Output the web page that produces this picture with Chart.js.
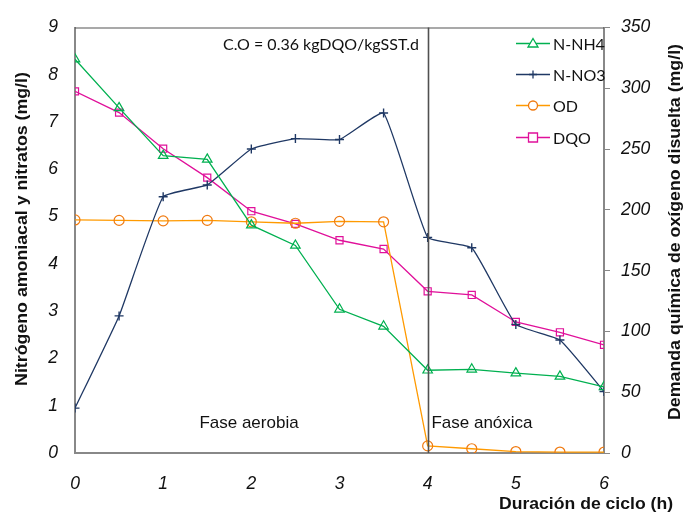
<!DOCTYPE html>
<html>
<head>
<meta charset="utf-8">
<script src="https://cdn.jsdelivr.net/npm/chart.js@4.4.1/dist/chart.umd.min.js"></script>
<style>
html,body{margin:0;padding:0;background:#fff;}
#wrap{width:699px;height:514px;position:relative;}
</style>
</head>
<body>
<div id="wrap"><canvas id="c" width="699" height="514"></canvas></div>
<script>
// Data
const hours = [0, 0.5, 1, 1.5, 2, 2.5, 3, 3.5, 4, 4.5, 5, 5.5, 6];
const nNH4 = [8.33, 7.30, 6.29, 6.21, 4.82, 4.39, 3.04, 2.68, 1.75, 1.77, 1.69, 1.62, 1.40];
const nNO3 = [0.95, 2.90, 5.42, 5.67, 6.43, 6.65, 6.63, 7.19, 4.56, 4.34, 2.72, 2.39, 1.30];
const od   = [4.93, 4.92, 4.91, 4.92, 4.89, 4.86, 4.90, 4.89, 0.15, 0.09, 0.03, 0.02, 0.02];
const dqo  = [297.5, 280, 250.3, 226.5, 198.9, 188.5, 175, 167.8, 133, 130, 107.8, 99.3, 89];
const xTicks = [0, 1, 2, 3, 4, 5, 6];
const leftTicks = [0, 1, 2, 3, 4, 5, 6, 7, 8, 9];
const rightTicks = [0, 50, 100, 150, 200, 250, 300, 350];
const seriesNames = ['N-NH4', 'N-NO3', 'OD', 'DQO'];

const C_NH4 = '#00B050', C_NO3 = '#1F3864', C_OD = '#FF9A00', C_ODM = '#F07A10', C_DQO = '#E0109A';

const pts = arr => hours.map((h, i) => ({x: h, y: arr[i]}));

const tickFont = {family: '"Liberation Sans", Arial, sans-serif', size: 17.5, style: 'italic'};

function stretchedText(ctx, text, x, y, rot, sx) {
  ctx.save();
  ctx.translate(x, y);
  ctx.rotate(rot);
  ctx.scale(sx, 1);
  ctx.fillText(text, 0, 0);
  ctx.restore();
}

const overlay = {
  id: 'overlay',
  afterDraw(chart) {
    const ctx = chart.ctx;
    const a = chart.chartArea;
    const xs = chart.scales.x;
    ctx.save();
    // top frame line
    ctx.strokeStyle = '#555';
    ctx.lineWidth = 1.2;
    ctx.beginPath(); ctx.moveTo(a.left, a.top + 0.5); ctx.lineTo(a.right, a.top + 0.5); ctx.stroke();
    // phase separator at 4 h
    const x4 = Math.round(xs.getPixelForValue(4)) + 0.5;
    ctx.strokeStyle = '#505050';
    ctx.lineWidth = 1.6;
    ctx.beginPath(); ctx.moveTo(x4, a.top); ctx.lineTo(x4, a.bottom); ctx.stroke();

    // annotations
    ctx.fillStyle = '#111';
    ctx.textAlign = 'center';
    ctx.textBaseline = 'middle';
    ctx.font = '16px Lato, "Open Sans", sans-serif';
    ctx.fillText('C.O = 0.36 kgDQO/kgSST.d', 321, 45);
    ctx.font = '17px "Liberation Sans", Arial, sans-serif';
    ctx.fillText('Fase aerobia', 249, 423);
    ctx.fillText('Fase anóxica', 482, 423);

    // axis titles
    ctx.font = 'bold 16px "Liberation Sans", Arial, sans-serif';
    stretchedText(ctx, 'Duración de ciclo (h)', 586, 505, 0, 1.1);
    stretchedText(ctx, 'Nitrógeno amoniacal y nitratos (mg/l)', 23, 229, -Math.PI / 2, 1.11);
    stretchedText(ctx, 'Demanda química de oxígeno disuelta (mg/l)', 676, 232, -Math.PI / 2, 1.11);

    // legend
    const ds = chart.data.datasets;
    const rows = [43, 74, 105, 137];
    ctx.font = '16px Lato, "Open Sans", sans-serif';
    ctx.textAlign = 'left';
    ds.forEach((d, i) => {
      const y = rows[i] + 0.5;
      ctx.strokeStyle = d.borderColor;
      ctx.lineWidth = 1.3;
      ctx.beginPath(); ctx.moveTo(516, y); ctx.lineTo(550, y); ctx.stroke();
      ctx.strokeStyle = d.pointBorderColor;
      ctx.lineWidth = 1.3;
      const cx = 533, r = 5;
      ctx.beginPath();
      if (d.pointStyle === 'triangle') {
        ctx.moveTo(cx, y - r); ctx.lineTo(cx + r, y + r * 0.7); ctx.lineTo(cx - r, y + r * 0.7); ctx.closePath();
        ctx.fillStyle = '#fff'; ctx.fill();
      } else if (d.pointStyle === 'cross') {
        ctx.moveTo(cx - 4, y); ctx.lineTo(cx + 4, y); ctx.moveTo(cx, y - 4); ctx.lineTo(cx, y + 4);
      } else if (d.pointStyle === 'circle') {
        ctx.arc(cx, y, 4.5, 0, Math.PI * 2);
        ctx.fillStyle = '#fff'; ctx.fill();
      } else {
        ctx.rect(cx - 4.5, y - 4.5, 9, 9);
        ctx.fillStyle = '#fff'; ctx.fill();
      }
      ctx.stroke();
      ctx.fillStyle = '#111';
      ctx.fillText(seriesNames[i], 553, y + 1);
    });
    ctx.restore();
  }
};

new Chart(document.getElementById('c'), {
  type: 'line',
  data: {
    datasets: [
      {label: seriesNames[0], data: pts(nNH4), yAxisID: 'y', borderColor: C_NH4, pointBorderColor: C_NH4,
       pointBackgroundColor: 'rgba(255,255,255,0)', pointStyle: 'triangle', pointRadius: 5.5, borderWidth: 1.3, pointBorderWidth: 1.2, tension: 0},
      {label: seriesNames[1], data: pts(nNO3), yAxisID: 'y', borderColor: C_NO3, pointBorderColor: C_NO3,
       pointBackgroundColor: C_NO3, pointStyle: 'cross', pointRadius: 4.5, borderWidth: 1.3, pointBorderWidth: 1.4, tension: 0.12},
      {label: seriesNames[2], data: pts(od), yAxisID: 'y', borderColor: C_OD, pointBorderColor: C_ODM,
       pointBackgroundColor: 'rgba(255,255,255,0)', pointStyle: 'circle', pointRadius: 5, borderWidth: 1.3, pointBorderWidth: 1.2, tension: 0},
      {label: seriesNames[3], data: pts(dqo), yAxisID: 'y2', borderColor: C_DQO, pointBorderColor: C_DQO,
       pointBackgroundColor: 'rgba(255,255,255,0)', pointStyle: 'rect', pointRadius: 5, borderWidth: 1.3, pointBorderWidth: 1.2, tension: 0}
    ]
  },
  options: {
    responsive: false,
    animation: false,
    devicePixelRatio: 1,
    layout: {padding: {top: 18, left: 0, right: 0, bottom: 0}},
    plugins: {legend: {display: false}, tooltip: {enabled: false}},
    scales: {
      x: {
        type: 'linear', min: 0, max: 6,
        afterBuildTicks: s => { s.ticks = xTicks.map(v => ({value: v})); },
        afterFit: s => { s.height = 61; },
        grid: {display: false, drawTicks: false},
        border: {display: true, color: '#888', width: 2},
        ticks: {font: tickFont, color: '#111', padding: 21, maxRotation: 0, autoSkip: false}
      },
      y: {
        type: 'linear', position: 'left', min: 0, max: 9,
        afterBuildTicks: s => { s.ticks = leftTicks.map(v => ({value: v})); },
        afterFit: s => { s.width = 75; },
        grid: {display: false, drawTicks: false},
        border: {display: true, color: '#888', width: 2},
        ticks: {font: tickFont, color: '#111', padding: 17, autoSkip: false}
      },
      y2: {
        type: 'linear', position: 'right', min: 0, max: 350,
        afterBuildTicks: s => { s.ticks = rightTicks.map(v => ({value: v})); },
        afterFit: s => { s.width = 95; },
        grid: {display: true, drawOnChartArea: false, drawTicks: true, tickLength: 6, color: '#888', lineWidth: 1},
        border: {display: true, color: '#888', width: 2},
        ticks: {font: tickFont, color: '#111', padding: 11, autoSkip: false}
      }
    }
  },
  plugins: [overlay]
});
</script>
</body>
</html>
